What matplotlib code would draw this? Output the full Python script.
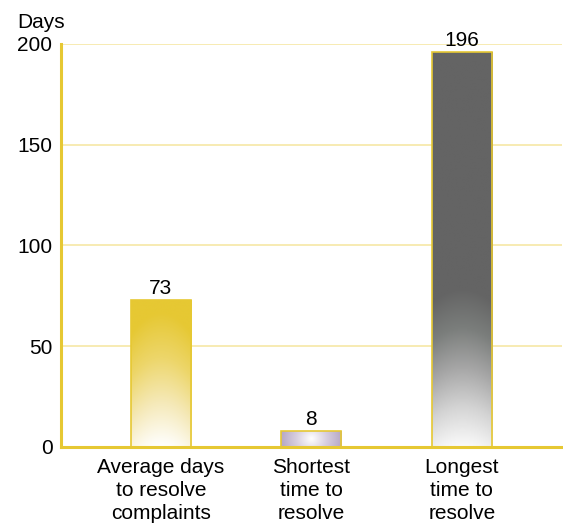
import numpy as np
import matplotlib.pyplot as plt
from matplotlib.colors import LinearSegmentedColormap

plt.rcParams['font.family'] = ['Liberation Sans', 'DejaVu Sans']

categories = ["Average days\nto resolve\ncomplaints", "Shortest\ntime to\nresolve", "Longest\ntime to\nresolve"]
values = [73, 8, 196]
yticks = [0, 50, 100, 150, 200]

gold = '#E6C833'
grid_col = '#F6E7A6'
fs = 15

fig = plt.figure(figsize=(5.63, 5.3), dpi=100)
ax = fig.add_axes([0.108, 0.157, 0.89, 0.76])

x = np.arange(len(values))
bars = ax.bar(x, values, width=0.4, color='none', edgecolor=gold, linewidth=1.2, zorder=3)

ax.set_xlim(-0.664, 2.664)
ax.set_ylim(0, 200)


def fill_gradient(bar, img, cmap):
    bx, by = bar.get_x(), bar.get_y()
    w, h = bar.get_width(), bar.get_height()
    im = ax.imshow(img, cmap=cmap, extent=[bx, bx + w, by, by + h], origin='lower',
                   aspect='auto', zorder=2, vmin=0, vmax=1, interpolation='bilinear')
    im.set_clip_path(bar)


# bar 1: gold fading to white glow at bottom
yy, xx = np.mgrid[0:1:200j, -1:1:60j]
v1 = np.clip(yy * 1.1 + 0.15 * np.abs(xx) ** 2, 0, 1)
cm1 = LinearSegmentedColormap.from_list('g', ['#FFFFFF', '#F5E9B8', '#EDD66A', '#E6C833'])
fill_gradient(bars[0], v1, cm1)

# bar 2: lavender with white centre
yy2, xx2 = np.mgrid[-1:1:40j, -1:1:80j]
v2 = np.clip(np.sqrt(xx2 ** 2 + (yy2 * 0.3) ** 2), 0, 1)
cm2 = LinearSegmentedColormap.from_list('p', ['#FFFFFF', '#D8CFE0', '#B7A9C6'])
fill_gradient(bars[1], v2, cm2)

# bar 3: dark grey top, fading to white at bottom
yy3, xx3 = np.mgrid[0:1:300j, -1:1:60j]
v3 = np.clip((yy3 / 0.40) + 0.08 * xx3 ** 2, 0, 1)
cm3 = LinearSegmentedColormap.from_list('k', ['#FAFAFA', '#D4D4D4', '#A6A6A6', '#7B7E7C', '#646464'])
fill_gradient(bars[2], v3, cm3)

for xi, v in zip(x, values):
    ax.text(xi, v + 1, str(v), ha='center', va='bottom', fontsize=fs, zorder=4)

ax.set_yticks(yticks)
ax.set_yticklabels([str(t) for t in yticks], fontsize=fs)
ax.set_xticks(x)
ax.set_xticklabels(categories, fontsize=fs, linespacing=1.28)
ax.tick_params(axis='x', length=0, pad=8)
ax.tick_params(axis='y', length=0, pad=6)

ax.grid(axis='y', color=grid_col, linewidth=1.2, zorder=0)
ax.set_axisbelow(True)
for s in ['top', 'right']:
    ax.spines[s].set_visible(False)
ax.spines['left'].set_color(gold)
ax.spines['left'].set_linewidth(2.2)
ax.spines['bottom'].set_color(gold)
ax.spines['bottom'].set_linewidth(2.2)

fig.text(0.030, 0.947, "Days", fontsize=fs, ha='left', va='baseline')

fig.savefig('out.png', dpi=100)
